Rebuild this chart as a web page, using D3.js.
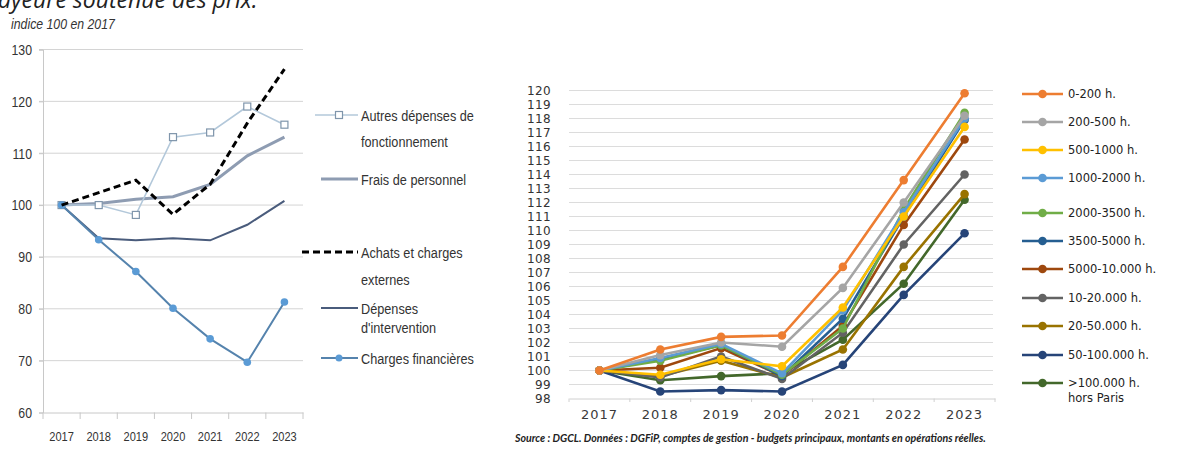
<!DOCTYPE html>
<html><head><meta charset="utf-8">
<script src="https://cdn.jsdelivr.net/npm/d3@7"></script>
<style>
body{margin:0;background:#fff;}
svg{display:block;}
.narrow{font-family:"Liberation Sans",Arial,sans-serif;}
.wide{font-family:"DejaVu Sans",Verdana,sans-serif;}
</style></head>
<body>
<svg id="c" width="1189" height="454"></svg>
<script>
// ---------- data: left chart ----------
const yearsL = ["2017","2018","2019","2020","2021","2022","2023"];
const ticksL = [60,70,80,90,100,110,120,130];
const autresDepenses = [100, 100, 98.1, 113.1, 114.0, 119.0, 115.5];
const fraisPersonnel = [100, 100.3, 101.1, 101.6, 104.0, 109.5, 113.1];
const achatsCharges = [100, 102.4, 104.8, 98.2, 104.0, 115.8, 126.2];
const depensesIntervention = [100, 93.6, 93.2, 93.6, 93.2, 96.2, 100.8];
const chargesFinancieres = [100, 93.3, 87.2, 80.1, 74.2, 69.7, 81.3];
const legendL = [["Autres dépenses de","fonctionnement"],["Frais de personnel"],["Achats et charges","externes"],["Dépenses","d'intervention"],["Charges financières"]];

// ---------- data: right chart ----------
const yearsR = ["2017","2018","2019","2020","2021","2022","2023"];
const ticksR = [98,99,100,101,102,103,104,105,106,107,108,109,110,111,112,113,114,115,116,117,118,119,120];
const strataNames = ["0-200 h.","200-500 h.","500-1000 h.","1000-2000 h.","2000-3500 h.","3500-5000 h.","5000-10.000 h.","10-20.000 h.","20-50.000 h.","50-100.000 h.",">100.000 h."];
const s0_200 =      [100, 101.5, 102.4, 102.5, 107.4, 113.6, 119.8];
const s200_500 =    [100, 101.1, 102.0, 101.7, 105.9, 112.0, 118.2];
const s500_1000 =   [100, 99.7, 100.8, 100.3, 104.5, 111.0, 117.4];
const s1000_2000 =  [100, 100.9, 101.9, 99.8, 104.3, 111.3, 118.0];
const s2000_3500 =  [100, 100.7, 101.8, 99.7, 103.0, 111.5, 118.4];
const s3500_5000 =  [100, 100.8, 101.8, 99.6, 103.7, 111.0, 117.9];
const s5000_10000 = [100, 100.2, 101.6, 99.6, 103.2, 110.4, 116.5];
const s10_20k =     [100, 99.5, 101.0, 99.4, 102.7, 109.0, 114.0];
const s20_50k =     [100, 99.6, 100.7, 99.5, 101.5, 107.4, 112.6];
const s50_100k =    [100, 98.5, 98.6, 98.5, 100.4, 105.4, 109.8];
const s100k =       [100, 99.3, 99.6, 99.8, 102.2, 106.2, 112.2];
const strataValues = [s0_200,s200_500,s500_1000,s1000_2000,s2000_3500,s3500_5000,s5000_10000,s10_20k,s20_50k,s50_100k,s100k];
const strataColors = ["#ED7D31","#A5A5A5","#FFC000","#5B9BD5","#70AD47","#255E91","#9E480E","#636363","#997300","#264478","#43682B"];

const svg = d3.select("#c");
const SX = 0.82; // horizontal condensing for the narrow (Calibri-like) texts

function narrowText(parent, x, y, size, txt, italic){
  const t = parent.append("text").attr("class","narrow")
    .attr("transform",`translate(${x},${y}) scale(${SX},1)`)
    .attr("font-size",size).attr("fill","#333").text(txt);
  if(italic) t.attr("font-style","italic");
  return t;
}

// heading fragment (cut at top, as in the source image)
svg.append("text").attr("x",-2).attr("y",8).attr("font-family","'Open Sans',sans-serif")
  .attr("font-style","italic").attr("font-size",23).attr("fill","#222").text("ayeure soutenue des prix.");

// ================= LEFT CHART =================
const L = svg.append("g");
const xL = d3.scaleBand().domain(yearsL).range([43,303]);
const yL = d3.scaleLinear().domain([60,130]).range([412.5,49.5]);
const cx = d => xL(d) + xL.bandwidth()/2;

narrowText(L, 11, 29, 15, "indice 100 en 2017", true);

// grid
L.append("g").selectAll("line").data(ticksL.filter(t=>t>60)).join("line")
  .attr("x1",39).attr("x2",303).attr("y1",d=>yL(d)).attr("y2",d=>yL(d))
  .attr("stroke","#d4d4d4").attr("stroke-width",1);

const yAxL = L.append("g").attr("transform","translate(43,0)")
  .call(d3.axisLeft(yL).tickValues(ticksL).tickSize(4).tickPadding(9.4));
yAxL.select(".domain").attr("stroke","#c8c8c8");
yAxL.selectAll(".tick line").attr("stroke","#c8c8c8");
yAxL.selectAll("text").attr("class","narrow").attr("font-size",15).attr("fill","#333")
  .attr("transform",`scale(${SX},1)`);

const xAxL = L.append("g").attr("transform","translate(0,412.5)")
  .call(d3.axisBottom(xL).tickSize(0).tickPadding(19));
xAxL.select(".domain").attr("stroke","#c8c8c8");
xAxL.selectAll("text").attr("class","narrow").attr("font-size",13.5).attr("fill","#333")
  .attr("transform",`scale(${SX},1)`);
L.append("g").selectAll("line").data(d3.range(8)).join("line")
  .attr("x1",d=>43+d*xL.step()).attr("x2",d=>43+d*xL.step())
  .attr("y1",412.5).attr("y2",419).attr("stroke","#c8c8c8");

const lineL = d3.line().x((d,i)=>cx(yearsL[i])).y(d=>yL(d));

L.append("path").attr("d",lineL(depensesIntervention)).attr("fill","none").attr("stroke","#4a5c7c").attr("stroke-width",2);
L.append("path").attr("d",lineL(fraisPersonnel)).attr("fill","none").attr("stroke","#8e9cb2").attr("stroke-width",3);
L.append("path").attr("d",lineL(autresDepenses)).attr("fill","none").attr("stroke","#b3c8da").attr("stroke-width",1.6);
L.append("g").selectAll("rect").data(autresDepenses).join("rect")
  .attr("x",(d,i)=>cx(yearsL[i])-3.5).attr("y",d=>yL(d)-3.5).attr("width",7).attr("height",7)
  .attr("fill","#fff").attr("stroke","#7f95ab").attr("stroke-width",1.2);
L.append("path").attr("d",lineL(chargesFinancieres)).attr("fill","none").attr("stroke","#5583ad").attr("stroke-width",2);
L.append("g").selectAll("circle").data(chargesFinancieres).join("circle")
  .attr("cx",(d,i)=>cx(yearsL[i])).attr("cy",d=>yL(d)).attr("r",3.8).attr("fill","#5b9bd5");
L.append("path").attr("d",lineL(achatsCharges)).attr("fill","none").attr("stroke","#000").attr("stroke-width",3).attr("stroke-dasharray","7,4");

// left legend
const legY = [115, 179, 252, 308, 358];
const legGap = [26.7, 0, 27.5, 19.5, 0];
const lg = L.append("g");
legendL.forEach((lab,i)=>{
  const y = legY[i];
  const g = lg.append("g");
  if(i===0){
    g.append("line").attr("x1",315).attr("x2",358).attr("y1",y).attr("y2",y).attr("stroke","#b3c8da").attr("stroke-width",1.6);
    g.append("rect").attr("x",335.5).attr("y",y-3.5).attr("width",7).attr("height",7).attr("fill","#fff").attr("stroke","#7f95ab").attr("stroke-width",1.2);
  } else if(i===1){
    g.append("line").attr("x1",321).attr("x2",358).attr("y1",y).attr("y2",y).attr("stroke","#8e9cb2").attr("stroke-width",3);
  } else if(i===2){
    g.append("line").attr("x1",302).attr("x2",358).attr("y1",y).attr("y2",y).attr("stroke","#000").attr("stroke-width",3).attr("stroke-dasharray","7,4");
  } else if(i===3){
    g.append("line").attr("x1",321).attr("x2",358).attr("y1",y).attr("y2",y).attr("stroke","#4a5c7c").attr("stroke-width",2);
  } else {
    g.append("line").attr("x1",321).attr("x2",358).attr("y1",y).attr("y2",y).attr("stroke","#5583ad").attr("stroke-width",2);
    g.append("circle").attr("cx",339).attr("cy",y).attr("r",3.5).attr("fill","#5b9bd5");
  }
  lab.forEach((t,j)=>{
    narrowText(g, 361, y+5.5+j*legGap[i], 15.5, t, false);
  });
});

// ================= RIGHT CHART =================
const R = svg.append("g");
const xR = d3.scaleBand().domain(yearsR).range([569,995]);
const yR = d3.scaleLinear().domain([98,120]).range([398.5,90.5]);
const cxR = d => xR(d) + xR.bandwidth()/2;

R.append("g").selectAll("line").data(ticksR.filter(t=>t>98)).join("line")
  .attr("x1",569).attr("x2",993).attr("y1",d=>yR(d)).attr("y2",d=>yR(d))
  .attr("stroke","#dcdcdc").attr("stroke-width",1);

const yAxR = R.append("g").attr("transform","translate(565,0)")
  .call(d3.axisLeft(yR).tickValues(ticksR).tickSize(0).tickPadding(14));
yAxR.select(".domain").remove();
yAxR.selectAll("text").attr("class","wide").attr("font-size",12).attr("fill","#333").attr("letter-spacing",0.4);

const xAxR = R.append("g").attr("transform","translate(0,398.5)")
  .call(d3.axisBottom(xR).tickSize(0).tickPadding(11));
xAxR.select(".domain").attr("stroke","#d0d0d0");
xAxR.selectAll("text").attr("class","wide").attr("font-size",13).attr("fill","#3a3a3a").attr("letter-spacing",1);
R.append("g").selectAll("line").data(d3.range(8)).join("line")
  .attr("x1",d=>569+d*xR.step()).attr("x2",d=>569+d*xR.step())
  .attr("y1",398.5).attr("y2",402).attr("stroke","#d0d0d0");

const lineR = d3.line().x((d,i)=>cxR(yearsR[i])).y(d=>yR(d));
const order = [10,9,8,7,6,5,4,3,2,1,0];
order.forEach(k=>{
  const gs = R.append("g");
  gs.append("path").attr("d",lineR(strataValues[k])).attr("fill","none")
    .attr("stroke",strataColors[k]).attr("stroke-width",2.6);
  gs.selectAll("circle").data(strataValues[k]).join("circle")
    .attr("cx",(d,i)=>cxR(yearsR[i])).attr("cy",d=>yR(d)).attr("r",4.3).attr("fill",strataColors[k]);
});

// right legend
const legYR = [94,122,150,178,213,241,269,298,326,355,383];
strataNames.forEach((n,i)=>{
  const y = legYR[i];
  const g = R.append("g");
  g.append("line").attr("x1",1022).attr("x2",1063).attr("y1",y).attr("y2",y).attr("stroke",strataColors[i]).attr("stroke-width",2.6);
  g.append("circle").attr("cx",1042.5).attr("cy",y).attr("r",4.3).attr("fill",strataColors[i]);
  g.append("text").attr("class","wide").attr("x",1068).attr("y",y+4).attr("font-size",11.5).attr("fill","#222").text(n);
  if(i===10) g.append("text").attr("class","wide").attr("x",1068).attr("y",y+19).attr("font-size",11.5).attr("fill","#222").text("hors Paris");
});

svg.append("text").attr("x",515).attr("y",442).attr("font-family","Lato,'Open Sans',sans-serif")
  .attr("font-style","italic").attr("font-weight","bold").attr("font-size",10.6).attr("fill","#222")
  .text("Source : DGCL. Données : DGFiP, comptes de gestion - budgets principaux, montants en opérations réelles.");
</script>
</body></html>
